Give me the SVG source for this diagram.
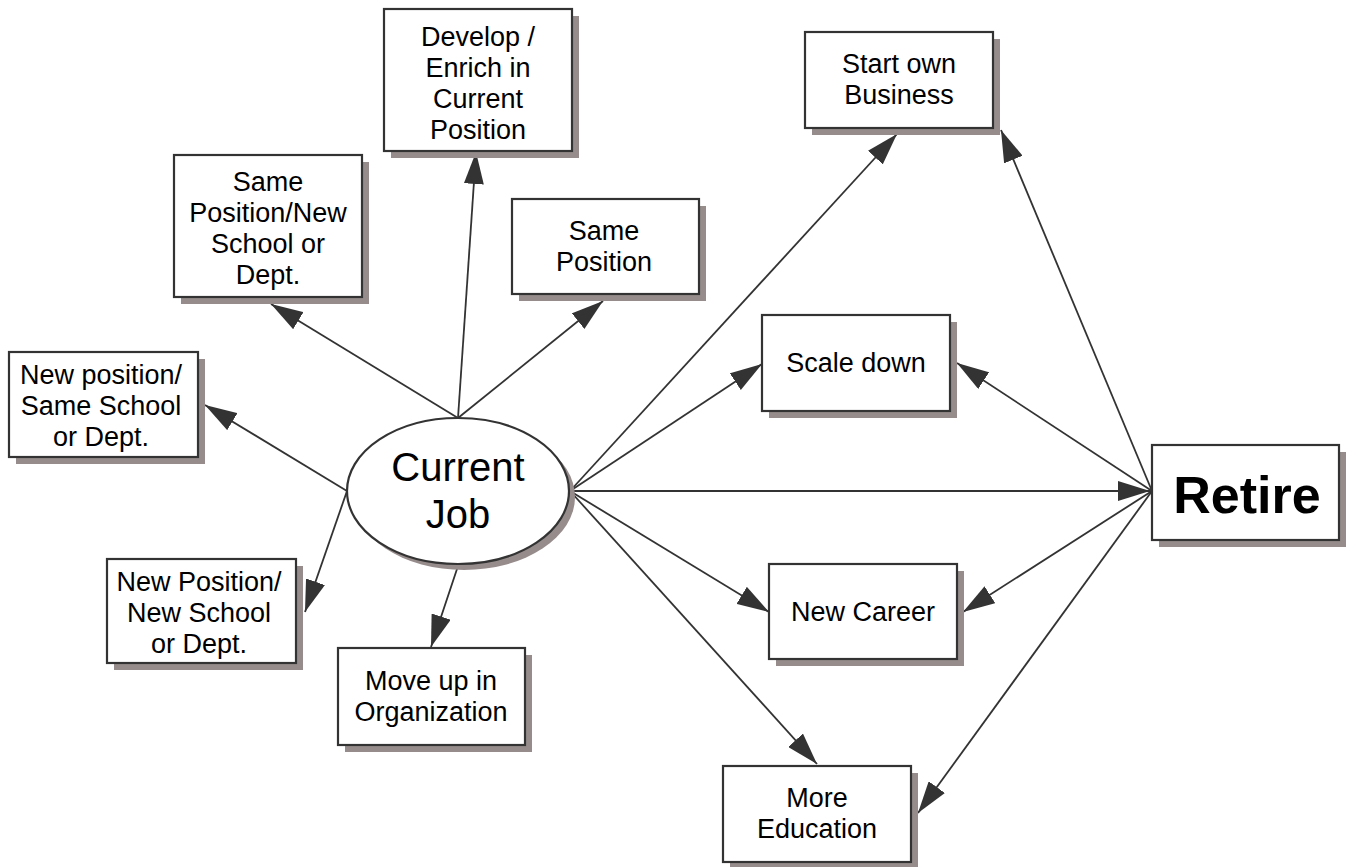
<svg xmlns="http://www.w3.org/2000/svg" width="1352" height="867" viewBox="0 0 1352 867">
<style>
.bg{fill:#ffffff}
.sh{fill:#968c8c}
.box{fill:#ffffff;stroke:#333333;stroke-width:2.2}
.t{font-family:"Liberation Sans",Arial,sans-serif;font-size:27px;fill:#000;text-anchor:middle}
.big{font-family:"Liberation Sans",Arial,sans-serif;font-size:40px;fill:#000;text-anchor:middle}
.ret{font-family:"Liberation Sans",Arial,sans-serif;font-size:52px;font-weight:bold;fill:#000;text-anchor:middle}
.c{stroke:#333333;stroke-width:1.8;fill:none;marker-end:url(#ah)}
</style>
<defs>
<marker id="ah" markerUnits="userSpaceOnUse" markerWidth="32" markerHeight="20" refX="32" refY="10" orient="auto" viewBox="0 0 32 20">
<path d="M0,0 L32,10 L0,20 z" fill="#333333"/>
</marker>
</defs>
<rect class="bg" x="0" y="0" width="1352" height="867"/>

<g id="connectors">
<line class="c" x1="458" y1="418" x2="476" y2="152"/>
<line class="c" x1="458" y1="418" x2="271" y2="304"/>
<line class="c" x1="458" y1="418" x2="603" y2="301"/>
<line class="c" x1="347" y1="491" x2="205" y2="405"/>
<line class="c" x1="347" y1="491" x2="305" y2="612"/>
<line class="c" x1="458" y1="566" x2="431" y2="647"/>
<line class="c" x1="570" y1="491" x2="897" y2="134"/>
<line class="c" x1="570" y1="491" x2="762" y2="364"/>
<line class="c" x1="570" y1="491" x2="1150" y2="491"/>
<line class="c" x1="570" y1="491" x2="769" y2="612"/>
<line class="c" x1="570" y1="491" x2="817" y2="764"/>
<line class="c" x1="1152" y1="491" x2="1001" y2="130"/>
<line class="c" x1="1152" y1="491" x2="957" y2="363"/>
<line class="c" x1="1152" y1="491" x2="963" y2="612"/>
<line class="c" x1="1152" y1="491" x2="918" y2="813"/>
</g>

<g id="current-job">
<ellipse class="sh" cx="464" cy="497" rx="111" ry="73"/>
<ellipse class="box" cx="458" cy="491" rx="111" ry="73"/>
<text class="big" x="458" y="481">Current</text>
<text class="big" x="458" y="528">Job</text>
</g>

<g id="develop">
<rect class="sh" x="391" y="16" width="188" height="142"/>
<rect class="box" x="384" y="9" width="188" height="142"/>
<text class="t" x="478" y="46">Develop /</text>
<text class="t" x="478" y="77">Enrich in</text>
<text class="t" x="478" y="108">Current</text>
<text class="t" x="478" y="139">Position</text>
</g>

<g id="same-position-new-school">
<rect class="sh" x="181" y="162" width="188" height="142"/>
<rect class="box" x="174" y="155" width="188" height="142"/>
<text class="t" x="268" y="191">Same</text>
<text class="t" x="268" y="222">Position/New</text>
<text class="t" x="268" y="253">School or</text>
<text class="t" x="268" y="284">Dept.</text>
</g>

<g id="same-position">
<rect class="sh" x="519" y="206" width="187" height="95"/>
<rect class="box" x="512" y="199" width="187" height="95"/>
<text class="t" x="604" y="240">Same</text>
<text class="t" x="604" y="271">Position</text>
</g>

<g id="new-position-same-school">
<rect class="sh" x="16" y="359" width="189" height="105"/>
<rect class="box" x="9" y="352" width="189" height="105"/>
<text class="t" x="101" y="384">New position/</text>
<text class="t" x="101" y="415">Same School</text>
<text class="t" x="101" y="446">or Dept.</text>
</g>

<g id="new-position-new-school">
<rect class="sh" x="114" y="566" width="189" height="104"/>
<rect class="box" x="107" y="559" width="189" height="104"/>
<text class="t" x="199" y="591">New Position/</text>
<text class="t" x="199" y="622">New School</text>
<text class="t" x="199" y="653">or Dept.</text>
</g>

<g id="move-up">
<rect class="sh" x="345" y="655" width="187" height="97"/>
<rect class="box" x="338" y="648" width="187" height="97"/>
<text class="t" x="431" y="690">Move up in</text>
<text class="t" x="431" y="721">Organization</text>
</g>

<g id="start-business">
<rect class="sh" x="812" y="39" width="188" height="96"/>
<rect class="box" x="805" y="32" width="188" height="96"/>
<text class="t" x="899" y="73">Start own</text>
<text class="t" x="899" y="104">Business</text>
</g>

<g id="scale-down">
<rect class="sh" x="769" y="322" width="188" height="96"/>
<rect class="box" x="762" y="315" width="188" height="96"/>
<text class="t" x="856" y="372">Scale down</text>
</g>

<g id="new-career">
<rect class="sh" x="776" y="571" width="188" height="95"/>
<rect class="box" x="769" y="564" width="188" height="95"/>
<text class="t" x="863" y="621">New Career</text>
</g>

<g id="more-education">
<rect class="sh" x="730" y="773" width="188" height="96"/>
<rect class="box" x="723" y="766" width="188" height="96"/>
<text class="t" x="817" y="807">More</text>
<text class="t" x="817" y="838">Education</text>
</g>

<g id="retire">
<rect class="sh" x="1159" y="452" width="187" height="95"/>
<rect class="box" x="1152" y="445" width="187" height="95"/>
<text class="ret" x="1247" y="513">Retire</text>
</g>
</svg>
